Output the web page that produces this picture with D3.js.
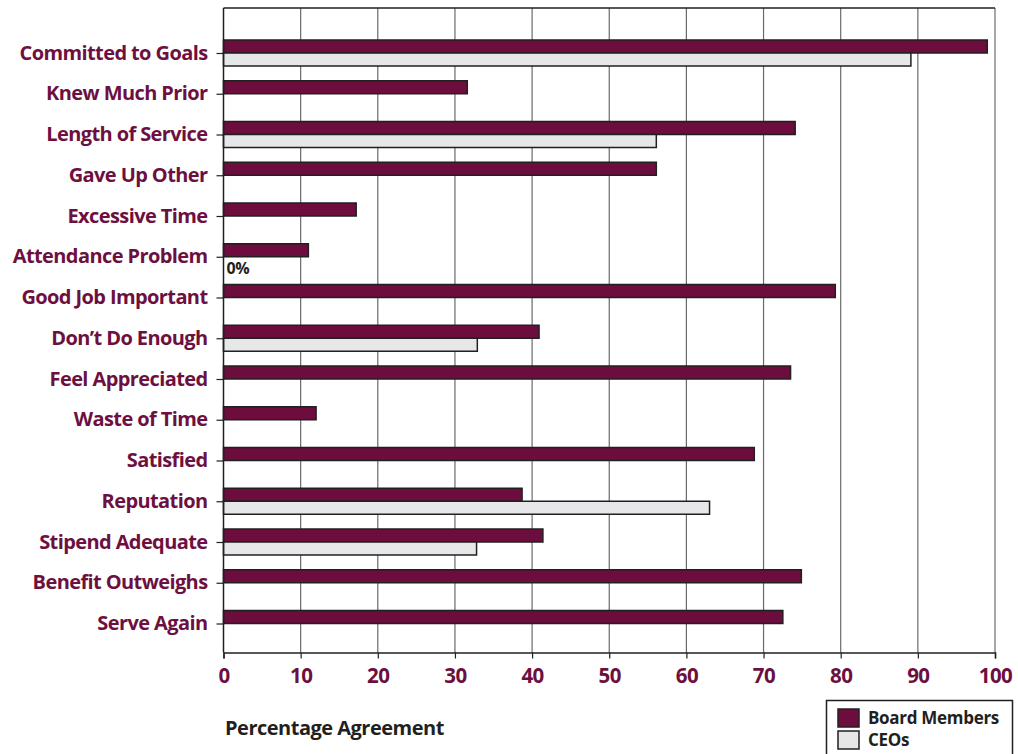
<!DOCTYPE html>
<html><head><meta charset="utf-8">
<script src="https://cdn.jsdelivr.net/npm/d3@7"></script>
<style>
body{margin:0;background:#fff;}
svg text{font-family:"Open Sans",sans-serif;font-weight:700;}
</style></head>
<body><svg id="c" width="1018" height="754"></svg>
<script>
const categories = ["Committed to Goals","Knew Much Prior","Length of Service","Gave Up Other","Excessive Time","Attendance Problem","Good Job Important","Don\u2019t Do Enough","Feel Appreciated","Waste of Time","Satisfied","Reputation","Stipend Adequate","Benefit Outweighs","Serve Again"];
const boardValues = [99, 31.6, 74.1, 56.1, 17.2, 11.0, 79.3, 40.9, 73.5, 12.0, 68.8, 38.7, 41.4, 74.9, 72.5];
const ceoValues = [89.1, null, 56.1, null, null, 0, null, 32.9, null, null, null, 63.0, 32.8, null, null];
const xTicks = [0,10,20,30,40,50,60,70,80,90,100];
const seriesNames = ["Board Members","CEOs"];

const maroon = "#6d0d3d", grey = "#e6e7e8", ink = "#231f20", labelCol = "#6d1040";
const svg = d3.select("#c");
const x = d3.scaleLinear().domain([0,100]).range([223.5,995]);
const y = d3.scalePoint().domain(categories).range([53,623.5]);
const plotTop = 8, plotBottom = 652.5;
const barH = 13;

// grid
svg.append("g").selectAll("line").data(xTicks.slice(1)).join("line")
  .attr("x1",d=>x(d)).attr("x2",d=>x(d)).attr("y1",plotTop).attr("y2",plotBottom)
  .attr("stroke","#6a6a6a").attr("stroke-width",1.2);
svg.append("line").attr("x1",x(0)).attr("x2",x(100)).attr("y1",plotTop).attr("y2",plotTop).attr("stroke",ink).attr("stroke-width",1.5);

// bars
svg.append("g").selectAll("rect").data(categories.map((c,i)=>({c,v:boardValues[i]}))).join("rect")
  .attr("x",x(0)).attr("y",d=>y(d.c)-barH).attr("width",d=>x(d.v)-x(0)).attr("height",barH)
  .attr("fill",maroon).attr("stroke",ink).attr("stroke-width",1.5);
svg.append("g").selectAll("rect").data(categories.map((c,i)=>({c,v:ceoValues[i]})).filter(d=>d.v)).join("rect")
  .attr("x",x(0)).attr("y",d=>y(d.c)).attr("width",d=>x(d.v)-x(0)).attr("height",barH)
  .attr("fill",grey).attr("stroke",ink).attr("stroke-width",1.5);
// zero label
categories.forEach((c,i)=>{ if(ceoValues[i]===0){
  svg.append("text").attr("x",x(0)+3).attr("y",y(c)+17.5).attr("font-size",16).attr("fill",ink).style("letter-spacing","-0.3px").text("0%");
}});

// axes
const ya = svg.append("g").attr("transform",`translate(${x(0)},0)`)
  .call(d3.axisLeft(y).tickSize(7).tickPadding(9));
ya.select(".domain").remove();
ya.append("line").attr("x1",0).attr("x2",0).attr("y1",plotTop).attr("y2",plotBottom).attr("stroke",ink).attr("stroke-width",1.5);
ya.selectAll(".tick line").attr("stroke",ink).attr("stroke-width",1.2);
ya.selectAll(".tick text").attr("font-size",20).attr("fill",labelCol).attr("dy","0.3em")
  .style("font-family","'Open Sans',sans-serif").style("font-weight",700).style("letter-spacing","-0.6px");

const xa = svg.append("g").attr("transform",`translate(0,${plotBottom})`)
  .call(d3.axisBottom(x).tickValues(xTicks).tickSize(6).tickPadding(10));
xa.select(".domain").attr("stroke",ink).attr("stroke-width",1.5);
xa.selectAll(".tick line").attr("stroke",ink).attr("stroke-width",1.2);
xa.selectAll(".tick text").attr("font-size",20.5).attr("fill",labelCol).style("font-family","'Open Sans',sans-serif").style("font-weight",700).style("letter-spacing","-0.5px");

svg.append("text").attr("x",225).attr("y",735).attr("font-size",20).attr("fill",ink).style("letter-spacing","-0.5px").text("Percentage Agreement");

// legend
const lg = svg.append("g");
lg.append("rect").attr("x",826.5).attr("y",700.5).attr("width",186).attr("height",60).attr("fill","#fff").attr("stroke",ink).attr("stroke-width",1.5);
seriesNames.forEach((s,i)=>{
  lg.append("rect").attr("x",838).attr("y",709+i*22).attr("width",21).attr("height",18)
    .attr("fill",i===0?maroon:grey).attr("stroke",ink).attr("stroke-width",1.5);
  lg.append("text").attr("x",868).attr("y",724+i*22).attr("font-size",17).attr("fill",ink).style("letter-spacing","-0.3px").text(s);
});
</script></body></html>
